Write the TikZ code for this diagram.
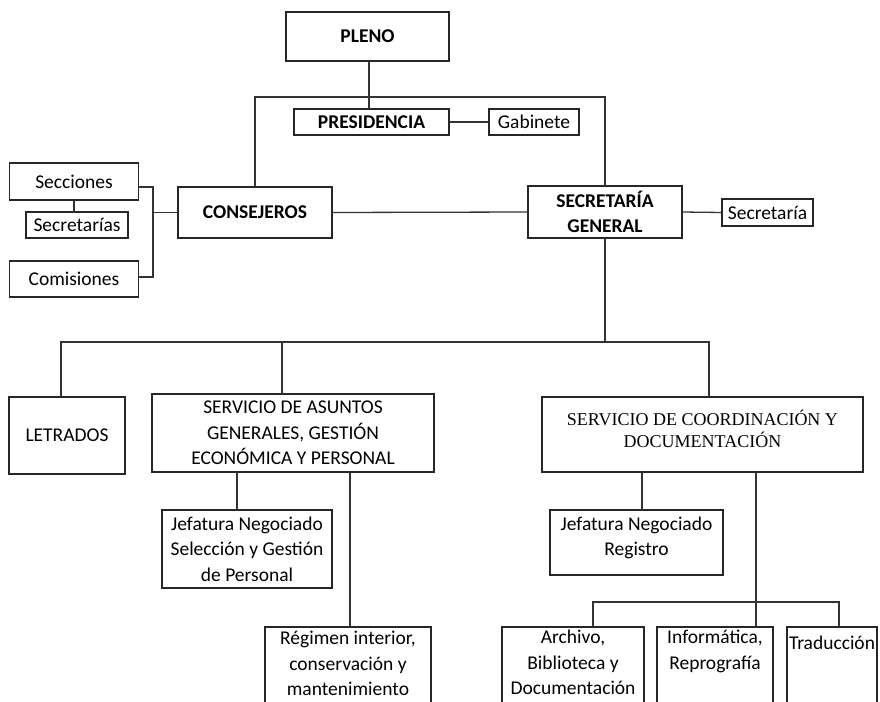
\documentclass[tikz,border=0pt]{standalone}
\usepackage{fontspec}
\setmainfont{Carlito}
\newfontfamily\tms{Liberation Serif}
\begin{document}
\begin{tikzpicture}[x=1pt,y=-1pt,
  box/.style={draw=black!85, line width=1.4pt, inner sep=0pt, outer sep=0pt, align=center,
    text=black, font=\fontsize{19.5}{25.5}\selectfont},
  bbox/.style={box, font=\fontsize{19.5}{25.5}\selectfont\bfseries},
  txt/.style={inner sep=0pt, align=center, text=black, font=\fontsize{19.5}{25.5}\selectfont},
  conn/.style={draw=black!80, line width=1.3pt}]
\useasboundingbox (0,0) rectangle (880,701);
\clip (0,0) rectangle (880,701);

% upper part
\node[bbox, minimum width=163, minimum height=49] (pleno) at (367.5,36.5) {PLENO};
\node[bbox, minimum width=155, minimum height=26] (pres) at (371.5,122) {PRESIDENCIA};
\node[box, minimum width=90, minimum height=26] (gab) at (534,122) {Gabinete};
\node[bbox, minimum width=154, minimum height=51] (cons) at (255,212.5) {CONSEJEROS};
\node[bbox, minimum width=154, minimum height=52] (sg) at (605,212) {SECRETARÍA\\GENERAL};
\node[box, minimum width=91, minimum height=27] (sec1) at (767.5,212.5) {Secretaría};
\node[box, minimum width=128.5, minimum height=37] (secc) at (74,181.5) {Secciones};
\node[box, minimum width=102, minimum height=26] (secrs) at (77,225) {Secretarías};
\node[box, minimum width=128.5, minimum height=36] (comis) at (74,279) {Comisiones};

% middle part
\node[box, minimum width=116, minimum height=77] (letr) at (67,435.5) {LETRADOS};
\node[box, minimum width=282, minimum height=78] (sag) at (293,433) {SERVICIO DE ASUNTOS\\GENERALES, GESTIÓN\\ECONÓMICA Y PERSONAL};
\node[box, minimum width=321, minimum height=75] (scd) at (702.5,434.5) {};
\node[txt, font=\tms\fontsize{18}{22}\selectfont] (scdtxt) at (702.5,429) {SERVICIO DE COORDINACIÓN Y\\DOCUMENTACIÓN};

\node[box, minimum width=170, minimum height=78] (jsp) at (247,549) {Jefatura Negociado\\Selección y Gestión\\de Personal};
\node[box, minimum width=173, minimum height=65] (jreg) at (636.5,542.5) {};
\node[txt] (jregtxt) at (636.5,538) {Jefatura Negociado\\Registro};

% bottom boxes (cut off by the page edge)
\node[box, anchor=north, minimum width=166, minimum height=110] (reg) at (348,627) {};
\node[txt, anchor=north] (regtxt) at ([yshift=-4pt]reg.north) {Régimen interior,\\conservación y\\mantenimiento};
\node[box, anchor=north, minimum width=142, minimum height=110] (arch) at (573,627) {};
\node[txt, anchor=north] (archtxt) at ([yshift=-3pt]arch.north) {Archivo,\\Biblioteca y\\Documentación};
\node[box, anchor=north, minimum width=116, minimum height=110] (info) at (715,627) {};
\node[txt, anchor=north] (infotxt) at ([yshift=-3pt]info.north) {Informática,\\Reprografía};
\node[box, anchor=north, minimum width=90, minimum height=110] (trad) at (832,627) {};
\node[txt, anchor=north] (tradtxt) at ([yshift=-9pt]trad.north) {Traducción};

% helper coordinates
\coordinate (xp) at (369,0);
\coordinate (topy) at (0,97);
\coordinate (bx) at (153,0);
\coordinate (hl) at (61,342);
\coordinate (hs) at (282,342);
\coordinate (hr) at (709,342);
\coordinate (s1) at (237,0);
\coordinate (s2) at (350,0);
\coordinate (c1) at (642,0);
\coordinate (c2) at (756,0);
\coordinate (by) at (0,602);
\coordinate (bl) at (593,0);
\coordinate (brr) at (839,0);

% connectors upper
\draw[conn] (xp |- pleno.south) -- (xp |- pres.north);
\draw[conn] (pres.east) -- (gab.west);
\draw[conn] (cons.north) |- (topy -| sg.north) -- (sg.north);
\draw[conn] (cons.east) -- (sg.west);
\draw[conn] (sg.east) -- (sec1.west);
\draw[conn] (secc.south) -- (secc.south |- secrs.north);
\draw[conn] ([yshift=-5.5pt]secc.east) -| ([yshift=2pt]comis.east -| bx) -- ([yshift=2pt]comis.east);
\draw[conn] (bx |- cons.west) -- (cons.west);

% connectors middle
\draw[conn] (sg.south) -- (sg.south |- hl);
\draw[conn] (hl |- letr.north) -- (hl) -- (hr) -- (hr |- scd.north);
\draw[conn] (hs) -- (hs |- sag.north);
\draw[conn] (s1 |- sag.south) -- (s1 |- jsp.north);
\draw[conn] (s2 |- sag.south) -- (s2 |- reg.north);
\draw[conn] (c1 |- scd.south) -- (c1 |- jreg.north);
\draw[conn] (c2 |- scd.south) -- (c2 |- info.north);
\draw[conn] (bl |- arch.north) -- (bl |- by) -- (brr |- by) -- (brr |- trad.north);
\end{tikzpicture}
\end{document}
